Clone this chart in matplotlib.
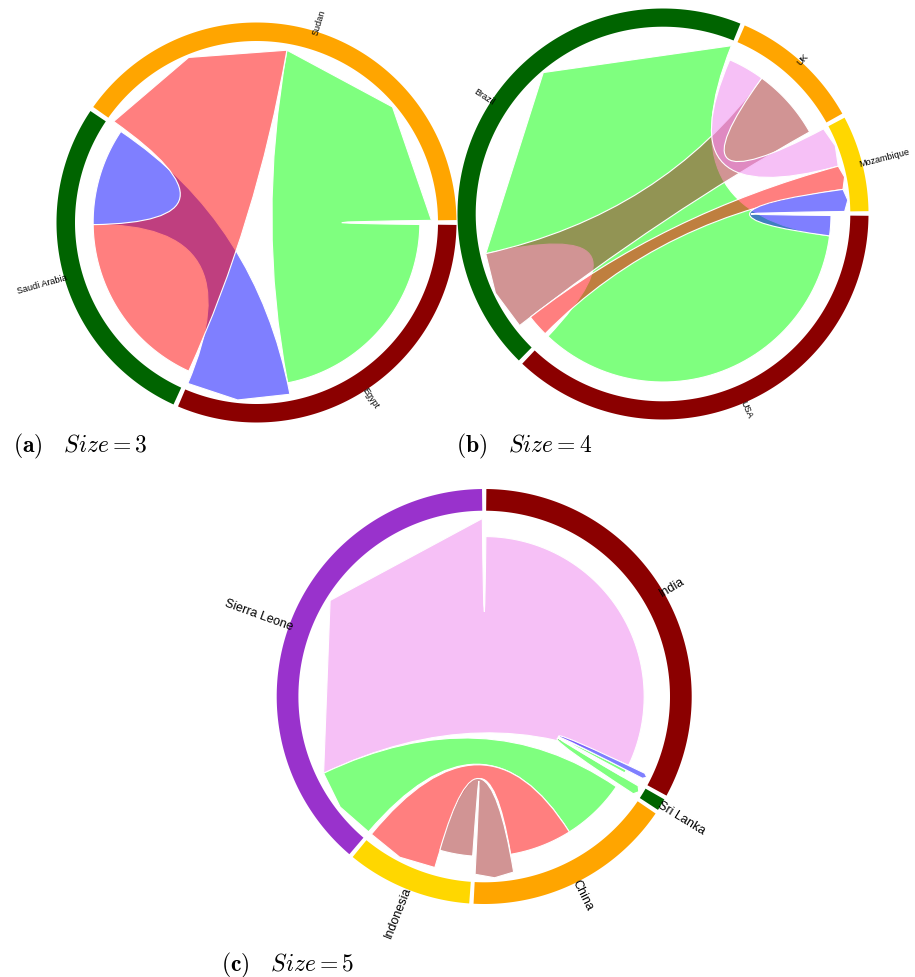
import numpy as np
import matplotlib
matplotlib.use('Agg')
import matplotlib.pyplot as plt
from matplotlib.path import Path
from matplotlib.patches import PathPatch

plt.rcParams['mathtext.fontset'] = 'cm'
plt.rcParams['font.family'] = ['Liberation Sans', 'DejaVu Sans']

W, H = 915, 978

# ---------------- data ----------------
# Panel (a) Size = 3
a_nodes = ['Sudan', 'Saudi Arabia', 'Egypt']
a_node_colors = ['orange', 'darkgreen', 'darkred']
a_src = [0, 2, 0]
a_tgt = [2, 1, 1]
a_src_val = [79.0, 34.0, 64.5]
a_tgt_val = [78.0, 34.5, 64.5]
a_rib_colors = ['lime', 'blue', 'red']
a_slot_order = [[0, 2], [1, 2], [1, 0]]

# Panel (b) Size = 4
b_nodes = ['Mozambique', 'UK', 'Brazil', 'USA']
b_node_colors = ['gold', 'orange', 'darkgreen', 'darkred']
b_src = [2, 2, 0, 0, 0]
b_tgt = [3, 1, 1, 2, 3]
b_src_val = [125.0, 25.3, 12.7, 7.5, 7.0]
b_tgt_val = [126.0, 24.8, 12.6, 7.6, 7.0]
b_rib_colors = ['lime', 'brown', 'violet', 'red', 'blue']
b_slot_order = [[4, 3, 2], [1, 2], [0, 1, 3], [0, 4]]

# Panel (c) Size = 5
c_nodes = ['Sierra Leone', 'Indonesia', 'China', 'Sri Lanka', 'India']
c_node_colors = ['darkorchid', 'gold', 'orange', 'darkgreen', 'darkred']
c_src = [0, 0, 1, 2, 3, 4]
c_tgt = [4, 2, 2, 1, 4, 3]
c_src_val = [115.3, 24.0, 23.3, 12.5, 3.0, 1.8]
c_tgt_val = [115.3, 23.6, 22.7, 12.0, 1.2, 0.4]
c_rib_colors = ['violet', 'lime', 'red', 'brown', 'lime', 'blue']
c_slot_order = [[0, 1], [2, 3], [3, 2, 1], [4, 5], [4, 5, 0]]

captions = [r'$\mathbf{(a)}\ \ \ Size = 3$', r'$\mathbf{(b)}\ \ \ Size = 4$',
            r'$\mathbf{(c)}\ \ \ Size = 5$']

# ---------------- layout helpers ----------------
fig = plt.figure(figsize=(W / 100, H / 100), dpi=100)
ax = fig.add_axes([0, 0, 1, 1])
ax.set_xlim(0, W)
ax.set_ylim(H, 0)
ax.axis('off')


def pt(cx, cy, R, r, deg):
    t = np.deg2rad(deg)
    return (cx + R * r * np.cos(t), cy - R * r * np.sin(t))


def draw_chord(nodes, node_colors, src, tgt, sval, tval, rcolors, slot_order,
               cx, cy, r_in, r_out, start, gap, rs, rt, fs):
    n = len(nodes)
    vals = {}
    for k in range(len(src)):
        vals[(src[k], k)] = sval[k]
        vals[(tgt[k], k)] = tval[k]
    totals = [sum(vals[(i, k)] for k in slot_order[i]) for i in range(n)]
    scale = (360.0 - n * gap) / sum(totals)
    node_span = []
    slot = {}
    ang = start
    for i in range(n):
        s = ang
        for k in slot_order[i]:
            w = vals[(i, k)] * scale
            slot[(i, k)] = (ang, ang + w)
            ang += w
        node_span.append((s, ang))
        ang += gap
    R = r_in
    # ribbons
    for k in range(len(src)):
        a0, a1 = slot[(src[k], k)]
        b0, b1 = slot[(tgt[k], k)]
        verts = [pt(cx, cy, R, rs, a1), pt(cx, cy, R, rs * 1.02, (a0 + a1) / 2),
                 pt(cx, cy, R, rs, a0), (cx, cy), pt(cx, cy, R, rt, b1)]
        codes = [Path.MOVETO, Path.LINETO, Path.LINETO, Path.CURVE3, Path.CURVE3]
        for th in np.linspace(b1, b0, 60)[1:]:
            verts.append(pt(cx, cy, R, rt, th))
            codes.append(Path.LINETO)
        verts += [(cx, cy), pt(cx, cy, R, rs, a1), (0, 0)]
        codes += [Path.CURVE3, Path.CURVE3, Path.CLOSEPOLY]
        ax.add_patch(PathPatch(Path(verts, codes), facecolor=rcolors[k], alpha=0.5,
                               edgecolor='none', zorder=2))
        ax.add_patch(PathPatch(Path(verts, codes), facecolor='none',
                               edgecolor='white', lw=0.8, zorder=2))
    # ring + labels
    for i in range(n):
        s, e = node_span[i]
        th = np.linspace(s, e, 120)
        outer = [pt(cx, cy, 1, r_out, t) for t in th]
        inner = [pt(cx, cy, 1, r_in, t) for t in th[::-1]]
        poly = plt.Polygon(outer + inner, closed=True, facecolor=node_colors[i],
                           edgecolor='none', zorder=4)
        ax.add_patch(poly)
        tc = ((s + e) / 2) % 360
        x, y = pt(cx, cy, 1, r_out - 3, tc)
        if 90 < tc < 270:
            rot, ha = tc - 180, 'right'
        else:
            rot, ha = (tc if tc <= 90 else tc - 360), 'left'
        ax.text(x, y, nodes[i], rotation=rot, ha=ha, va='center',
                rotation_mode='anchor', fontsize=fs, color='black', zorder=5)


draw_chord(a_nodes, a_node_colors, a_src, a_tgt, a_src_val, a_tgt_val, a_rib_colors,
           a_slot_order, 256.5, 223.5, 181.5, 200.0, 0.7, 1.4, 0.964, 0.90, 6.5)
draw_chord(b_nodes, b_node_colors, b_src, b_tgt, b_src_val, b_tgt_val, b_rib_colors,
           b_slot_order, 663.0, 215.0, 187.3, 205.5, 0.8, 1.3, 0.97, 0.897, 6.5)
draw_chord(c_nodes, c_node_colors, c_src, c_tgt, c_src_val, c_tgt_val, c_rib_colors,
           c_slot_order, 484.2, 697.5, 185.8, 207.5, 90.6, 1.2, 0.958, 0.861, 9)

cap_pos = [(13, 446), (456, 446), (221, 965)]
for (x, y), c in zip(cap_pos, captions):
    ax.text(x, y, c, ha='left', va='center', fontsize=17)

fig.savefig('out.png', dpi=100)
